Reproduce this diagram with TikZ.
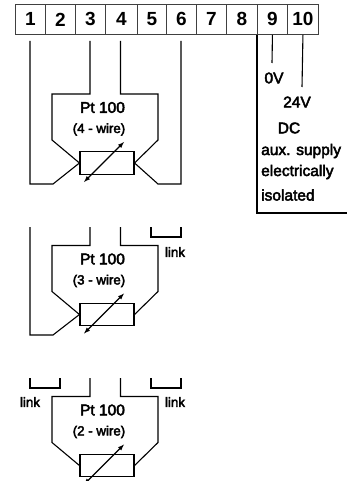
\documentclass[tikz,border=0pt]{standalone}
\usepackage{fontspec}
\setmainfont[RawFeature={embolden=3.0}]{Liberation Sans}
\newfontfamily\digitfont{Liberation Sans}
\usetikzlibrary{positioning}
\begin{document}
\begin{tikzpicture}[x=1pt,y=-1pt,
  terminal/.style = {shape=rectangle, draw=black!75, line width=0.9pt, minimum height=30pt,
    inner sep=0pt, text=black, font=\digitfont\bfseries\fontsize{19}{19}\selectfont},
  sensor/.style = {shape=rectangle, draw, line width=1.1pt, minimum width=54pt,
    minimum height=22.5pt, inner sep=0pt},
  wire/.style = {draw, line width=1.1pt},
  bigtext/.style = {font=\fontsize{15.5}{15.5}\selectfont, inner sep=0pt},
  smalltext/.style = {font=\fontsize{13.3}{13.3}\selectfont, inner sep=0pt}
    ]
  \useasboundingbox (0,0) rectangle (347,481);
  \foreach \n/\xa/\xb in {1/15/45,2/45/75,3/75/105,4/105/137,5/137/166,
                          6/166/196,7/196/226,8/226/257,9/257/287,10/287/318}
    \node[terminal, minimum width=\xb pt-\xa pt, anchor=north west] (t\n) at (\xa,4) {\n};

  \foreach \name/\off/\top/\kind in {a/0/41/4,b/151.5/75.5/3,c/302.5/75.5/2}{
    \begin{scope}[shift={(0,\off)}]
      \node[sensor] (res\name) at (107,163) {};
      \node[bigtext] (pt\name) at (102.5,107.5) {Pt 100};
      \node[smalltext] (kind\name) at (99,129.5) {(\kind{} - wire)};
      \coordinate (wl\name) at (90,\top);
      \coordinate (wr\name) at (120.5,\top);
      \coordinate (arrowa\name) at (124,142);
      \coordinate (arrowb\name) at (84,182);
      \draw[wire] (wl\name) -- (90,94) -- (52,94) -- (52,140) -- (res\name.west);
      \draw[wire] (wr\name) -- (120.5,94) -- (158,94) -- (158,140) -- (res\name.east);
      \draw[line width=1.1pt,>=latex,<->] (arrowa\name) -- (arrowb\name);
    \end{scope}
  }

  \coordinate (oneA) at (30,41);
  \coordinate (oneB) at (30,227);
  \coordinate (sixA) at (181,41);
  \draw[wire] (oneA) -- (30,184) -- (53,184) -- (resa.west);
  \draw[wire] (sixA) -- (181,184) -- (158,184) -- (resa.east);
  \draw[wire] (oneB) -- (30,335) -- (53,335) -- (resb.west);

  \foreach \name/\xa/\xb/\ya/\xt/\yt in {r/151/181/227/175/252,s/30/60/378/30/402,u/151/181/378/175/402}{
    \coordinate (link\name a) at (\xa,\ya);
    \coordinate (link\name b) at (\xb,\ya);
    \draw[wire] (link\name a) -- (\xa,\ya+10) -- (\xb,\ya+10) -- (link\name b);
    \node[smalltext] (linktext\name) at (\xt,\yt) {link};
  }

  \coordinate (zero) at (272,63);
  \coordinate (plus) at (302,87);
  \coordinate (box) at (347,213);
  \draw[wire] (t9.south) -- (zero);
  \draw[wire] (t10.south) -- (plus);
  \draw[wire] (t9.south west) -- (257,213) -- (box);
  \node[bigtext] (zerov) at (274,78) {0V};
  \node[bigtext] (plusv) at (297,102) {24V};
  \node[bigtext] (dc) at (289,128) {DC};
  \node[bigtext, anchor=west] (aux) at (261,151) {aux. supply};
  \node[bigtext, anchor=west] (elec) at (261,172) {electrically};
  \node[bigtext, anchor=west] (iso) at (261,195) {isolated};
\end{tikzpicture}
\end{document}
